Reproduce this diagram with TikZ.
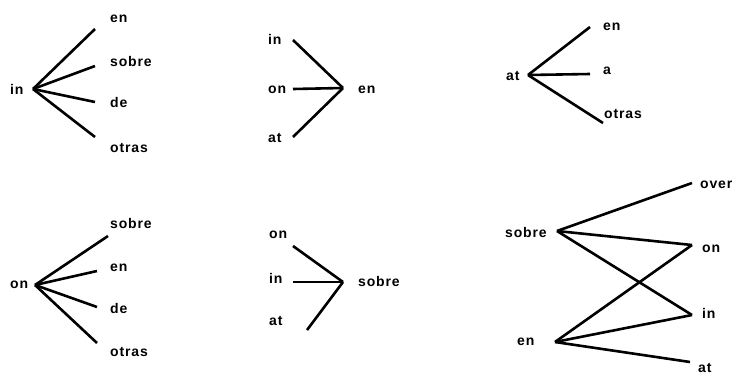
\documentclass[tikz,border=0pt]{standalone}
\usepackage{fontspec}
\setsansfont{Liberation Sans}[LetterSpace=6]
\usetikzlibrary{positioning}

\begin{document}
\begin{tikzpicture}
  [x=1pt,y=-1pt,
   word/.style={font=\sffamily\bfseries\fontsize{14}{16}\selectfont,inner sep=0pt,anchor=base west},
   branch/.style={line width=2.6pt}]

  \useasboundingbox (0,0) rectangle (741,381);

  % in -> en, sobre, de, otras
  \node[word] (inA) at (10,94) {in};
  \coordinate (inX) at (33,89);
  \node[word] (inEn) at (110,22) {en};
  \node[word] (inSobre) at (110,66) {sobre};
  \node[word] (inDe) at (110,107) {de};
  \node[word] (inOtras) at (110,152) {otras};
  \coordinate (e1) at (95,29);
  \coordinate (e2) at (95,66);
  \coordinate (e3) at (95,102);
  \coordinate (e4) at (95,137);
  \foreach \e in {e1,e2,e3,e4} \draw[branch] (inX) -- (\e);

  % in, on, at -> en
  \node[word] (mIn) at (268,44) {in};
  \node[word] (mOn) at (268,93) {on};
  \node[word] (mAt) at (268,142) {at};
  \node[word] (mEn) at (358,93) {en};
  \coordinate (mX) at (343,88);
  \coordinate (s1) at (293,40);
  \coordinate (s2) at (293,89);
  \coordinate (s3) at (293,137);
  \foreach \s in {s1,s2,s3} \draw[branch] (\s) -- (mX);

  % at -> en, a, otras
  \node[word] (atA) at (506,80) {at};
  \coordinate (atX) at (528,75);
  \node[word] (atEn) at (603,30) {en};
  \node[word] (atA2) at (603,74) {a};
  \node[word] (atOtras) at (604,118) {otras};
  \coordinate (f1) at (590,27);
  \coordinate (f2) at (590,74);
  \coordinate (f3) at (603,123);
  \foreach \f in {f1,f2,f3} \draw[branch] (atX) -- (\f);

  % on -> sobre, en, de, otras
  \node[word] (onA) at (10,288) {on};
  \coordinate (onX) at (35,285);
  \node[word] (onSobre) at (110,228) {sobre};
  \node[word] (onEn) at (110,271) {en};
  \node[word] (onDe) at (110,313) {de};
  \node[word] (onOtras) at (110,356) {otras};
  \coordinate (g1) at (108,236);
  \coordinate (g2) at (97,271);
  \coordinate (g3) at (97,307);
  \coordinate (g4) at (97,343);
  \foreach \g in {g1,g2,g3,g4} \draw[branch] (onX) -- (\g);

  % on, in, at -> sobre
  \node[word] (nOn) at (269,238) {on};
  \node[word] (nIn) at (269,283) {in};
  \node[word] (nAt) at (269,325) {at};
  \node[word] (nSobre) at (358,286) {sobre};
  \coordinate (nX) at (343,282);
  \coordinate (t1) at (293,246);
  \coordinate (t2) at (293,282);
  \coordinate (t3) at (307,330);
  \foreach \t in {t1,t2,t3} \draw[branch] (\t) -- (nX);

  % sobre, en -> over, on, in, at
  \node[word] (rSobre) at (505,237) {sobre};
  \node[word] (rEn) at (517,345) {en};
  \coordinate (rS) at (557,231);
  \coordinate (rE) at (555,342);
  \node[word] (rOver) at (700,188) {over};
  \node[word] (rOn) at (702,252) {on};
  \node[word] (rIn) at (702,318) {in};
  \node[word] (rAt) at (698,372) {at};
  \coordinate (h1) at (692,183);
  \coordinate (h2) at (692,245);
  \coordinate (h3) at (692,315);
  \coordinate (h4) at (690,362);
  \foreach \h in {h1,h2,h3} \draw[branch] (rS) -- (\h);
  \foreach \h in {h2,h3,h4} \draw[branch] (rE) -- (\h);

\end{tikzpicture}
\end{document}
